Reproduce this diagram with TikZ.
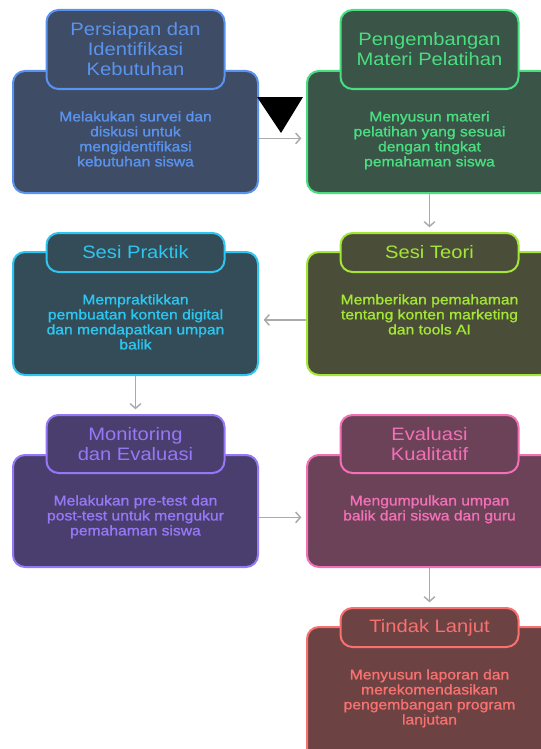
\documentclass[tikz,border=0pt]{standalone}
\usepackage{fontspec}
\setmainfont{Liberation Sans}[FakeStretch=1.12]
\newfontfamily\bodyfont{Liberation Sans}[FakeStretch=1.12,FakeBold=1.2]
\usetikzlibrary{positioning,arrows.meta}
\definecolor{prepfill}{RGB}{62,76,102}
\definecolor{prepline}{RGB}{90,147,238}
\definecolor{devfill}{RGB}{58,84,72}
\definecolor{devline}{RGB}{74,222,128}
\definecolor{pracfill}{RGB}{52,76,88}
\definecolor{pracline}{RGB}{44,198,240}
\definecolor{theofill}{RGB}{74,78,56}
\definecolor{theoline}{RGB}{163,230,53}
\definecolor{monfill}{RGB}{74,62,110}
\definecolor{monline}{RGB}{150,120,246}
\definecolor{evalfill}{RGB}{108,66,88}
\definecolor{evalline}{RGB}{242,112,182}
\definecolor{nextfill}{RGB}{108,66,66}
\definecolor{nextline}{RGB}{248,113,113}
\definecolor{flowgray}{RGB}{170,170,170}

\tikzset{
  cardbody/.style={draw=#1line, fill=#1fill, line width=1.5pt, rounded corners=9pt,
    minimum width=183.75pt},
  cardtitle/.style={draw=#1line, fill=#1fill, line width=1.5pt, rounded corners=9pt,
    minimum width=133.5pt, text=#1line, align=center, inner sep=0pt,
    font=\fontsize{13.5}{15}\selectfont},
  cardtext/.style={text=#1line, align=center, inner sep=0pt,
    font=\bodyfont\fontsize{10.5}{11.25}\selectfont},
  flow/.style={draw=flowgray, line width=1.1pt, -{Straight Barb[length=3.5pt,width=8pt]},
    shorten >=3.5pt}
}

\begin{document}
\begin{tikzpicture}[x=0.75pt,y=-0.75pt]
\clip (0,0) rectangle (541,749);
\fill[white] (0,0) rectangle (541,749);

% Persiapan dan Identifikasi Kebutuhan
\node[cardbody=prep, minimum height=91.5pt] (prepb) at (135.5,132) {};
\node[cardtitle=prep, minimum height=59.25pt] (prept) at (135.5,49.5) {Persiapan dan\\Identifikasi\\Kebutuhan};
\node[cardtext=prep, below=15.75pt of prept] (prepx) {Melakukan survei dan\\diskusi untuk\\mengidentifikasi\\kebutuhan siswa};

% Pengembangan Materi Pelatihan
\node[cardbody=dev, minimum height=91.5pt] (devb) at (429.5,132) {};
\node[cardtitle=dev, minimum height=59.25pt] (devt) at (429.5,49.5) {Pengembangan\\Materi Pelatihan};
\node[cardtext=dev, below=15.75pt of devt] (devx) {Menyusun materi\\pelatihan yang sesuai\\dengan tingkat\\pemahaman siswa};

% Sesi Praktik
\node[cardbody=prac, minimum height=92.25pt] (pracb) at (135.5,313.5) {};
\node[cardtitle=prac, minimum height=29.25pt] (pract) at (135.5,252.5) {Sesi Praktik};
\node[cardtext=prac, below=15.75pt of pract] (pracx) {Mempraktikkan\\pembuatan konten digital\\dan mendapatkan umpan\\balik};

% Sesi Teori
\node[cardbody=theo, minimum height=92.25pt] (theob) at (429.5,313.5) {};
\node[cardtitle=theo, minimum height=29.25pt] (theot) at (429.5,252.5) {Sesi Teori};
\node[cardtext=theo, below=15.75pt of theot] (theox) {Memberikan pemahaman\\tentang konten marketing\\dan tools AI};

% Monitoring dan Evaluasi
\node[cardbody=mon, minimum height=84pt] (monb) at (135.5,511) {};
\node[cardtitle=mon, minimum height=43.5pt] (mont) at (135.5,444) {Monitoring\\dan Evaluasi};
\node[cardtext=mon, below=15.75pt of mont] (monx) {Melakukan pre-test dan\\post-test untuk mengukur\\pemahaman siswa};

% Evaluasi Kualitatif
\node[cardbody=eval, minimum height=84pt] (evalb) at (429.5,511) {};
\node[cardtitle=eval, minimum height=43.5pt] (evalt) at (429.5,444) {Evaluasi\\Kualitatif};
\node[cardtext=eval, below=15.75pt of evalt] (evalx) {Mengumpulkan umpan\\balik dari siswa dan guru};

% Tindak Lanjut
\node[cardbody=next, minimum height=99.75pt] (nextb) at (429.5,693.5) {};
\node[cardtitle=next, minimum height=29.25pt] (nextt) at (429.5,627.5) {Tindak Lanjut};
\node[cardtext=next, below=15.75pt of nextt] (nextx) {Menyusun laporan dan\\merekomendasikan\\pengembangan program\\lanjutan};

% Alur
\draw[flow] ([yshift=-4.8pt]prepb.east) -- ([yshift=-4.8pt]devb.west);
\draw[flow] (devb.south) -- (theot.north);
\draw[flow] ([yshift=-4.8pt]theob.west) -- ([yshift=-4.8pt]pracb.east);
\draw[flow] (pracb.south) -- (mont.north);
\draw[flow] ([yshift=-4.8pt]monb.east) -- ([yshift=-4.8pt]evalb.west);
\draw[flow] (evalb.south) -- (nextt.north);

% Segitiga hitam
\fill[black] (257,97) -- (303,97) -- (281,133) -- cycle;
\end{tikzpicture}
\end{document}
